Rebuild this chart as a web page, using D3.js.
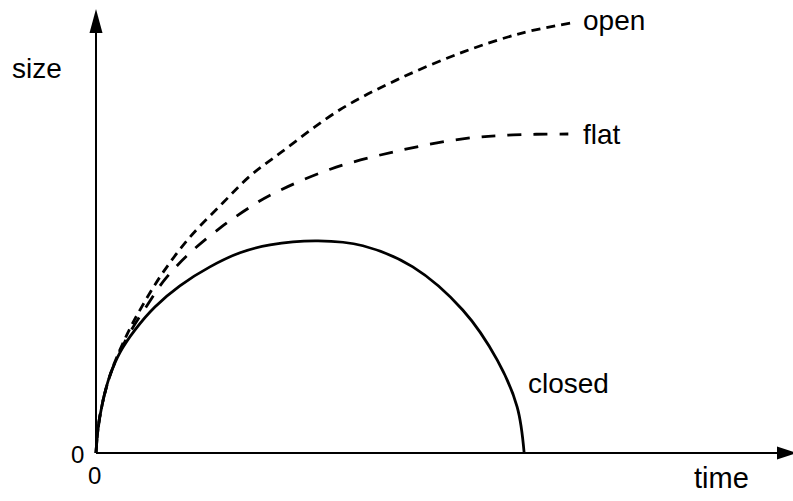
<!DOCTYPE html>
<html>
<head>
<meta charset="utf-8">
<script src="https://cdn.jsdelivr.net/npm/d3@7"></script>
<style>
  html, body { margin: 0; padding: 0; background: #fff; }
  svg { display: block; }
  text { font-family: "Liberation Sans", Arial, Helvetica, sans-serif; fill: #000; }
</style>
</head>
<body>
<svg id="chart" width="793" height="501"></svg>
<script>
// curve values (time, size)
let openTime   = [0, 0.05, 0.22, 0.48, 0.73, 1.05, 1.47, 1.98, 2.41, 2.88, 3.81, 4.70, 5.73, 6.67, 7.41];
let openSize   = [0, 0.75, 1.77, 2.68, 3.36, 4.11, 4.91, 5.68, 6.30, 6.82, 7.80, 8.48, 9.11, 9.55, 9.77];

let flatTime   = [0, 0.05, 0.22, 0.48, 0.80, 1.08, 1.47, 1.98, 2.41, 2.72, 3.66, 4.70, 5.73, 6.52, 7.38];
let flatSize   = [0, 0.75, 1.77, 2.61, 3.36, 3.95, 4.55, 5.16, 5.59, 5.86, 6.45, 6.86, 7.14, 7.23, 7.25];

let closedTime = [0, 0.03, 0.11, 0.22, 0.38, 0.61, 0.92, 1.31, 1.78, 2.25, 2.72, 3.47, 4.17, 4.95, 5.73, 6.27, 6.58, 6.69];
let closedSize = [0, 0.52, 1.20, 1.77, 2.30, 2.80, 3.32, 3.80, 4.23, 4.55, 4.73, 4.82, 4.71, 4.23, 3.25, 2.11, 1.05, 0];

let series = [
    {name: 'open',   t: openTime,   s: openSize,   dash: '9,6'},
    {name: 'flat',   t: flatTime,   s: flatSize,   dash: '14,12'},
    {name: 'closed', t: closedTime, s: closedSize, dash: null}
];

let SVG = d3.select('#chart');

let x = d3.scaleLinear().domain([0, 10]).range([96, 736]);
let y = d3.scaleLinear().domain([0, 10]).range([453, 13]);

let line = d3.line()
    .curve(d3.curveCatmullRom.alpha(0.5))
    .x(d => x(d[0]))
    .y(d => y(d[1]));

// axes with arrow heads
SVG.append('line')
    .attr('x1', x(0)).attr('y1', y(0))
    .attr('x2', x(0)).attr('y2', 33)
    .style('stroke', '#000').style('stroke-width', 2);
SVG.append('path')
    .attr('d', `M${x(0)},9 L${x(0) - 6.5},33 L${x(0) + 6.5},33 Z`)
    .style('fill', '#000');

SVG.append('line')
    .attr('x1', x(0)).attr('y1', y(0))
    .attr('x2', 777).attr('y2', y(0))
    .style('stroke', '#000').style('stroke-width', 2);
SVG.append('path')
    .attr('d', `M797,${y(0)} L777,${y(0) - 6.5} L777,${y(0) + 6.5} Z`)
    .style('fill', '#000');

// curves
series.forEach(sr => {
    let pts = sr.t.map((t, i) => [t, sr.s[i]]);
    SVG.append('path')
        .datum(pts)
        .attr('d', line)
        .style('fill', 'none')
        .style('stroke', '#000')
        .style('stroke-width', 2.8)
        .style('stroke-dasharray', sr.dash);
});

// labels
SVG.append('text').attr('x', 583).attr('y', 30).style('font-size', '28px').text('open');
SVG.append('text').attr('x', 583).attr('y', 144).style('font-size', '28px').text('flat');
SVG.append('text').attr('x', 528).attr('y', 393).style('font-size', '28px').text('closed');
SVG.append('text').attr('x', 12).attr('y', 78).style('font-size', '28px').text('size');
SVG.append('text').attr('x', 694).attr('y', 488).style('font-size', '29px').text('time');
SVG.append('text').attr('x', 71).attr('y', 463).style('font-size', '24px').text('0');
SVG.append('text').attr('x', 88).attr('y', 484).style('font-size', '24px').text('0');
</script>
</body>
</html>
